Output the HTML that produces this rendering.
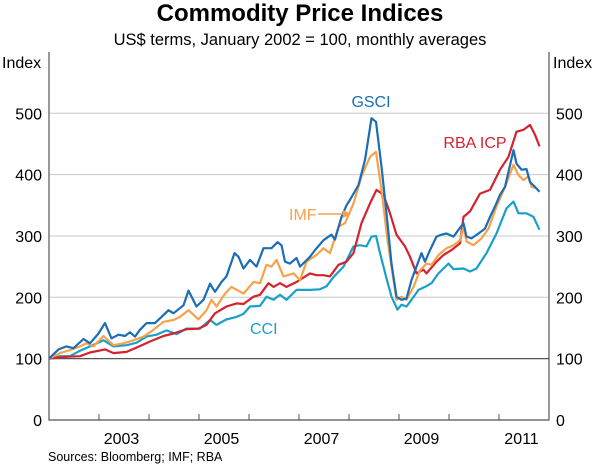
<!DOCTYPE html>
<html><head><meta charset="utf-8"><style>
body{margin:0;background:#fff;}
svg text{font-family:"Liberation Sans",Arial,sans-serif;}
</style></head><body>
<svg id="chart" width="600" height="467" xmlns="http://www.w3.org/2000/svg">
<text x="300" y="21" text-anchor="middle" font-size="24" font-weight="bold">Commodity Price Indices</text>
<text x="300" y="45" text-anchor="middle" font-size="16.5">US$ terms, January 2002 = 100, monthly averages</text>
<text x="2" y="68" font-size="16">Index</text>
<text x="553" y="68" font-size="16">Index</text>
<g id="grid"></g>
<g id="series"></g>
<g id="axes"></g>
<text x="371" y="107" text-anchor="middle" font-size="16" fill="#1b6db5">GSCI</text>
<text x="475" y="148" text-anchor="middle" font-size="16" fill="#d2232f">RBA ICP</text>
<text x="289" y="220" font-size="16" fill="#f7a24b">IMF</text>
<line x1="318" y1="214" x2="345" y2="214" stroke="#f7a24b" stroke-width="1.5"/>
<polygon points="351,214 343,210 343,218" fill="#f7a24b"/>
<text x="250" y="334" font-size="16" fill="#1a9fca">CCI</text>
<text x="48" y="461" font-size="12.5">Sources: Bloomberg; IMF; RBA</text>
</svg>
<script>
const yTicks=[0,100,200,300,400,500];
const yearLabels=["2003","2005","2007","2009","2011"];
const gsciDates=[2002.0,2002.19,2002.35,2002.49,2002.69,2002.82,2002.99,2003.12,2003.25,2003.39,2003.52,2003.62,2003.72,2003.82,2003.95,2004.12,2004.25,2004.39,2004.49,2004.69,2004.79,2004.95,2005.09,2005.22,2005.32,2005.45,2005.55,2005.71,2005.79,2005.89,2006.02,2006.15,2006.29,2006.45,2006.57,2006.65,2006.72,2006.82,2006.95,2007.02,2007.22,2007.32,2007.49,2007.65,2007.72,2007.85,2007.95,2008.02,2008.19,2008.32,2008.45,2008.54,2008.65,2008.75,2008.85,2008.95,2009.05,2009.15,2009.25,2009.35,2009.45,2009.52,2009.62,2009.75,2009.85,2009.95,2010.09,2010.19,2010.29,2010.35,2010.45,2010.59,2010.72,2010.82,2010.92,2011.02,2011.12,2011.29,2011.35,2011.45,2011.55,2011.62,2011.72,2011.81];
const gsciValues=[100,115,120,117,132,125,141,158,133,139,137,143,136,147,158,158,168,179,174,187,211,185,196,222,209,225,234,272,266,247,261,250,280,280,290,285,258,255,264,250,266,277,293,302,294,331,350,359,383,424,492,486,413,337,255,201,196,198,228,250,272,258,277,299,302,304,299,310,321,299,296,304,312,331,348,367,380,440,418,408,409,388,380,372];
const imfDates=[2002.0,2002.22,2002.42,2002.62,2002.75,2002.89,2003.09,2003.29,2003.49,2003.69,2003.89,2004.09,2004.29,2004.49,2004.62,2004.79,2004.99,2005.15,2005.25,2005.35,2005.52,2005.65,2005.89,2006.09,2006.22,2006.35,2006.45,2006.55,2006.69,2006.89,2007.02,2007.15,2007.35,2007.49,2007.62,2007.79,2007.92,2008.09,2008.25,2008.42,2008.54,2008.65,2008.77,2008.87,2008.95,2009.05,2009.15,2009.29,2009.42,2009.55,2009.65,2009.79,2009.95,2010.09,2010.22,2010.29,2010.35,2010.49,2010.65,2010.79,2010.95,2011.12,2011.29,2011.39,2011.49,2011.59,2011.65,2011.75];
const imfValues=[100,109,114,120,125,120,137,122,125,130,136,147,160,163,168,179,164,179,196,185,206,217,206,225,223,253,250,261,234,239,228,258,269,280,272,315,321,353,397,429,437,375,293,239,196,201,196,217,244,255,253,269,280,285,293,315,291,285,296,312,348,380,416,399,391,397,380,378];
const rbaDates=[2002.0,2002.35,2002.62,2002.82,2003.12,2003.29,2003.55,2003.75,2004.02,2004.29,2004.49,2004.75,2004.99,2005.15,2005.32,2005.55,2005.75,2005.89,2006.09,2006.22,2006.39,2006.49,2006.62,2006.75,2006.95,2007.22,2007.35,2007.49,2007.62,2007.79,2007.95,2008.09,2008.25,2008.42,2008.55,2008.69,2008.82,2008.95,2009.12,2009.22,2009.35,2009.49,2009.55,2009.75,2009.89,2010.05,2010.22,2010.29,2010.42,2010.62,2010.82,2011.02,2011.19,2011.35,2011.49,2011.62,2011.72,2011.81];
const rbaValues=[100,103,104,110,115,109,111,118,128,137,141,148,149,155,174,185,190,189,201,204,223,217,223,217,225,239,236,236,234,253,258,272,321,353,375,367,337,302,283,266,239,245,239,258,269,277,288,331,340,369,375,408,429,470,473,481,465,446];
const cciDates=[2002.0,2002.22,2002.42,2002.62,2002.82,2003.09,2003.29,2003.55,2003.75,2003.95,2004.15,2004.35,2004.55,2004.75,2005.02,2005.22,2005.35,2005.55,2005.75,2005.89,2006.02,2006.22,2006.35,2006.49,2006.62,2006.75,2006.95,2007.22,2007.42,2007.55,2007.69,2007.89,2008.09,2008.22,2008.35,2008.45,2008.54,2008.62,2008.74,2008.85,2008.97,2009.05,2009.15,2009.25,2009.39,2009.52,2009.65,2009.79,2009.99,2010.09,2010.29,2010.42,2010.55,2010.75,2010.95,2011.15,2011.29,2011.39,2011.55,2011.69,2011.81];
const cciValues=[100,104,104,113,120,130,120,122,126,136,139,146,140,149,149,163,155,164,168,173,185,186,201,196,204,196,212,212,213,218,233,250,283,285,283,299,300,272,234,201,180,188,185,196,212,217,223,239,255,246,247,242,247,272,304,345,356,337,337,331,310];

const NS="http://www.w3.org/2000/svg";
const X0=49,X1=549,Y0=420,YTOP=52;
function xScale(yr){return X0+(yr-2002)*50;}
function yScale(v){return Y0-v*0.6135;}
const grid=document.getElementById('grid'),axes=document.getElementById('axes'),ser=document.getElementById('series');
function mk(tag,attrs,parent){const e=document.createElementNS(NS,tag);for(const k in attrs)e.setAttribute(k,attrs[k]);parent.appendChild(e);return e;}
yTicks.forEach(v=>{
  const y=yScale(v);
  if(v>0){const l=mk('line',{x1:X0,x2:X1,y1:y,y2:y,stroke:v===100?'#555':'#c8c8c8','stroke-width':v===100?1.3:1},grid);
  
  }
  const t=mk('text',{x:42,y:y+6,'text-anchor':'end','font-size':16},axes);t.textContent=v;
  
  
  const t2=mk('text',{x:556,y:y+6,'font-size':16},axes);t2.textContent=v;
  
  
});
const frame=mk('path',{d:`M${X0},${YTOP}V${Y0}H${X1}V${YTOP}`,fill:'none',stroke:'#555','stroke-width':1.2},axes);


for(let yr=2003;yr<=2011;yr++){const x=xScale(yr);const l=mk('line',{x1:x,x2:x,y1:Y0,y2:Y0-6,stroke:'#555'},axes);
  
  }
yearLabels.forEach(s=>{const t=mk('text',{x:xScale(+s+0.45),y:444,'text-anchor':'middle','font-size':16},axes);t.textContent=s;
  
  });
function line(d,v,color,name){const p=mk('path',{d:d.map((yr,i)=>(i?'L':'M')+xScale(yr).toFixed(1)+','+yScale(v[i]).toFixed(1)).join(''),fill:'none',stroke:color,'stroke-width':2.2,'stroke-linejoin':'round'},ser);
  
  }
line(cciDates,cciValues,'#1a9fca','cci-line');
line(rbaDates,rbaValues,'#d2232f','rba-icp-line');
line(imfDates,imfValues,'#f7a24b','imf-line');
line(gsciDates,gsciValues,'#1b6db5','gsci-line');
</script>
</body></html>
